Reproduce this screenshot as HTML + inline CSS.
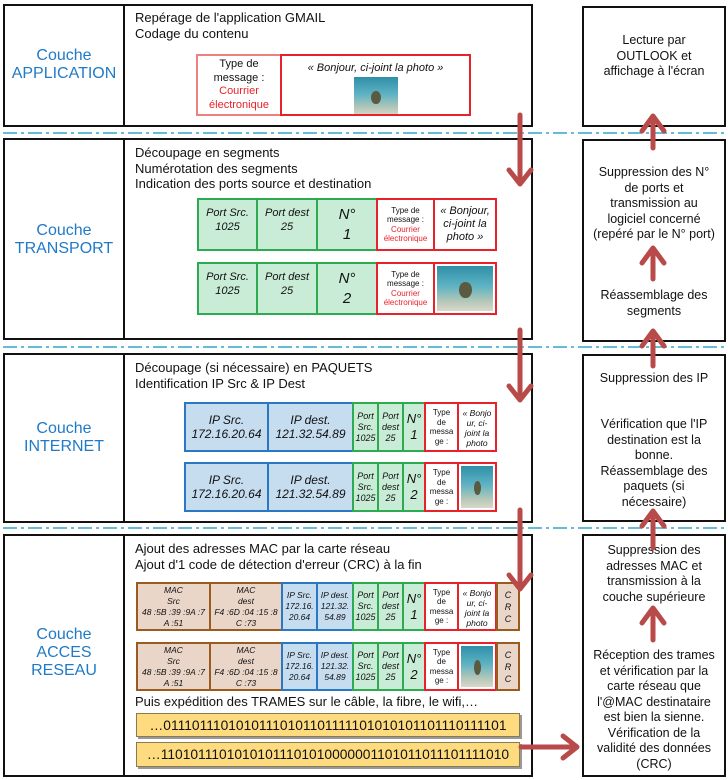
<!DOCTYPE html>
<html><head><meta charset="utf-8"><style>
*{margin:0;padding:0;box-sizing:border-box}
body{width:728px;height:780px;background:#fff;font-family:"Liberation Sans",sans-serif;position:relative;overflow:hidden;color:#111}
.a{position:absolute}
.box{position:absolute;border:2px solid #111;background:#fff}
.lbl{position:absolute;color:#1f7ac8;font-size:16px;text-align:center;line-height:18px;display:flex;align-items:center;justify-content:center}
.txt{position:absolute;font-size:13px;line-height:15.5px}
.c{position:absolute;display:flex;align-items:center;justify-content:center;text-align:center;font-style:italic;overflow:hidden}
.g{background:#c9ecd6;border:2px solid #2eaa50}
.b{background:#c6dcef;border:2px solid #2a78c4}
.br{background:#e9d6c9;border:2px solid #9b5a1e}
.r{background:#fff;border:2px solid #e8222a}
.ty{font-style:normal;font-size:8px;line-height:9.5px}
.photo{background:linear-gradient(180deg,#2f8fa8 0%,#5fb3c4 45%,#b8c8b8 80%,#d8d8cc 100%);position:relative}
.photo::after{content:"";position:absolute;left:40%;top:35%;width:22%;height:35%;background:#5a5a40;border-radius:50%}
.rt{position:absolute;font-size:12.5px;line-height:15.5px;text-align:center}
.bits{position:absolute;background:#fddb7e;border:1px solid #8a7a50;box-shadow:2px 2px 0 #999;font-size:13.8px;display:flex;align-items:center;justify-content:center;white-space:nowrap;overflow:hidden}
</style></head><body>
<svg class="a" style="left:0;top:0" width="728" height="780">
<g stroke="#4fb3cf" stroke-width="1.8" stroke-dasharray="14 4 3 4">
<line x1="3" y1="133" x2="725" y2="133"/>
<line x1="3" y1="347" x2="725" y2="347"/>
<line x1="3" y1="528" x2="725" y2="528"/>
</g></svg>

<div class="box" style="left:3px;top:4px;width:530px;height:123px"></div>
<div class="box" style="left:3px;top:138px;width:530px;height:202px"></div>
<div class="box" style="left:3px;top:353px;width:530px;height:170px"></div>
<div class="box" style="left:3px;top:534px;width:530px;height:243px"></div>
<div class="a" style="left:123px;top:4px;width:2px;height:123px;background:#111"></div>
<div class="a" style="left:123px;top:138px;width:2px;height:202px;background:#111"></div>
<div class="a" style="left:123px;top:353px;width:2px;height:170px;background:#111"></div>
<div class="a" style="left:123px;top:534px;width:2px;height:243px;background:#111"></div>

<div class="lbl" style="left:5px;top:40px;width:118px;height:50px">Couche<br>APPLICATION</div>
<div class="lbl" style="left:5px;top:215px;width:118px;height:50px">Couche<br>TRANSPORT</div>
<div class="lbl" style="left:5px;top:413px;width:118px;height:50px">Couche<br>INTERNET</div>
<div class="lbl" style="left:5px;top:618px;width:118px;height:70px;line-height:18px">Couche<br>ACCES<br>RESEAU</div>

<div class="txt" style="left:135px;top:10px">Repérage de l'application GMAIL<br>Codage du contenu</div>
<div class="c r" style="left:196px;top:54px;width:86px;height:62px;font-style:normal;font-size:11px;line-height:13.5px;border-color:#f08080"><div>Type de<br>message :<br><span style="color:#e8222a">Courrier<br>électronique</span></div></div>
<div class="c r" style="left:280px;top:54px;width:191px;height:62px;display:block"><div style="font-size:11px;margin-top:6px">« Bonjour, ci-joint la photo »</div><div class="photo" style="width:44px;height:39px;margin:3px auto 0"></div></div>

<div class="txt" style="left:135px;top:145px">Découpage en segments<br>Numérotation des segments<br>Indication des ports source et destination</div>
<div class="c g" style="left:197px;top:198px;width:61px;height:53px;font-size:11px;line-height:14px"><div style="margin-top:-10px">Port Src.<br>1025</div></div>
<div class="c g" style="left:256px;top:198px;width:62px;height:53px;font-size:11px;line-height:14px"><div style="margin-top:-10px">Port dest<br>25</div></div>
<div class="c g" style="left:316px;top:198px;width:62px;height:53px;font-size:15px;line-height:20px">N°<br>1</div>
<div class="c r ty" style="left:376px;top:198px;width:59px;height:53px"><div>Type de<br>message :<br><span style="color:#e8222a">Courrier<br>électronique</span></div></div>
<div class="c r" style="left:433px;top:198px;width:64px;height:53px;font-size:11px;line-height:13px">« Bonjour,<br>ci-joint la<br>photo »</div>

<div class="c g" style="left:197px;top:262px;width:61px;height:53px;font-size:11px;line-height:14px"><div style="margin-top:-10px">Port Src.<br>1025</div></div>
<div class="c g" style="left:256px;top:262px;width:62px;height:53px;font-size:11px;line-height:14px"><div style="margin-top:-10px">Port dest<br>25</div></div>
<div class="c g" style="left:316px;top:262px;width:62px;height:53px;font-size:15px;line-height:20px">N°<br>2</div>
<div class="c r ty" style="left:376px;top:262px;width:59px;height:53px"><div>Type de<br>message :<br><span style="color:#e8222a">Courrier<br>électronique</span></div></div>
<div class="c r" style="left:433px;top:262px;width:64px;height:53px;padding:2px"><div class="photo" style="width:100%;height:100%"></div></div>

<div class="txt" style="left:135px;top:360px">Découpage (si nécessaire) en PAQUETS<br>Identification IP Src &amp; IP Dest</div>
<div class="c b" style="left:184px;top:402px;width:85px;height:50px;font-size:12px;line-height:14px">IP Src.<br>172.16.20.64</div>
<div class="c b" style="left:267px;top:402px;width:87px;height:50px;font-size:12px;line-height:14px">IP dest.<br>121.32.54.89</div>
<div class="c g" style="left:352px;top:402px;width:27px;height:50px;font-size:9px;line-height:11px">Port<br>Src.<br>1025</div>
<div class="c g" style="left:377px;top:402px;width:27px;height:50px;font-size:9px;line-height:11px">Port<br>dest<br>25</div>
<div class="c g" style="left:402px;top:402px;width:24px;height:50px;font-size:13px;line-height:16px">N°<br>1</div>
<div class="c r ty" style="left:424px;top:402px;width:35px;height:50px">Type<br>de<br>messa<br>ge :</div>
<div class="c r" style="left:457px;top:402px;width:40px;height:50px;font-size:8.5px;line-height:10px;align-items:flex-start;padding-top:4px">« Bonjo<br>ur, ci-<br>joint la<br>photo</div>

<div class="c b" style="left:184px;top:462px;width:85px;height:50px;font-size:12px;line-height:14px">IP Src.<br>172.16.20.64</div>
<div class="c b" style="left:267px;top:462px;width:87px;height:50px;font-size:12px;line-height:14px">IP dest.<br>121.32.54.89</div>
<div class="c g" style="left:352px;top:462px;width:27px;height:50px;font-size:9px;line-height:11px">Port<br>Src.<br>1025</div>
<div class="c g" style="left:377px;top:462px;width:27px;height:50px;font-size:9px;line-height:11px">Port<br>dest<br>25</div>
<div class="c g" style="left:402px;top:462px;width:24px;height:50px;font-size:13px;line-height:16px">N°<br>2</div>
<div class="c r ty" style="left:424px;top:462px;width:35px;height:50px">Type<br>de<br>messa<br>ge :</div>
<div class="c r" style="left:457px;top:462px;width:40px;height:50px;padding:2px"><div class="photo" style="width:100%;height:100%"></div></div>

<div class="txt" style="left:135px;top:541px">Ajout des adresses MAC par la carte réseau<br>Ajout d'1 code de détection d'erreur (CRC) à la fin</div>
<div class="c br" style="left:136px;top:582px;width:75px;height:49px;font-size:8.5px;line-height:11px">MAC<br>Src<br>48 :5B :39 :9A :7<br>A :51</div>
<div class="c br" style="left:209px;top:582px;width:74px;height:49px;font-size:8.5px;line-height:11px">MAC<br>dest<br>F4 :6D :04 :15 :8<br>C :73</div>
<div class="c b" style="left:281px;top:582px;width:37px;height:49px;font-size:8.5px;line-height:11px">IP Src.<br>172.16.<br>20.64</div>
<div class="c b" style="left:316px;top:582px;width:38px;height:49px;font-size:8.5px;line-height:11px">IP dest.<br>121.32.<br>54.89</div>
<div class="c g" style="left:352px;top:582px;width:27px;height:49px;font-size:9px;line-height:11px">Port<br>Src.<br>1025</div>
<div class="c g" style="left:377px;top:582px;width:27px;height:49px;font-size:9px;line-height:11px">Port<br>dest<br>25</div>
<div class="c g" style="left:402px;top:582px;width:24px;height:49px;font-size:13px;line-height:16px">N°<br>1</div>
<div class="c r ty" style="left:424px;top:582px;width:35px;height:49px">Type<br>de<br>messa<br>ge :</div>
<div class="c r" style="left:457px;top:582px;width:40px;height:49px;font-size:8.5px;line-height:10px;align-items:flex-start;padding-top:4px">« Bonjo<br>ur, ci-<br>joint la<br>photo</div>
<div class="c br" style="left:496px;top:582px;width:24px;height:49px;font-size:9px;line-height:12px">C<br>R<br>C</div>

<div class="c br" style="left:136px;top:642px;width:75px;height:49px;font-size:8.5px;line-height:11px">MAC<br>Src<br>48 :5B :39 :9A :7<br>A :51</div>
<div class="c br" style="left:209px;top:642px;width:74px;height:49px;font-size:8.5px;line-height:11px">MAC<br>dest<br>F4 :6D :04 :15 :8<br>C :73</div>
<div class="c b" style="left:281px;top:642px;width:37px;height:49px;font-size:8.5px;line-height:11px">IP Src.<br>172.16.<br>20.64</div>
<div class="c b" style="left:316px;top:642px;width:38px;height:49px;font-size:8.5px;line-height:11px">IP dest.<br>121.32.<br>54.89</div>
<div class="c g" style="left:352px;top:642px;width:27px;height:49px;font-size:9px;line-height:11px">Port<br>Src.<br>1025</div>
<div class="c g" style="left:377px;top:642px;width:27px;height:49px;font-size:9px;line-height:11px">Port<br>dest<br>25</div>
<div class="c g" style="left:402px;top:642px;width:24px;height:49px;font-size:13px;line-height:16px">N°<br>2</div>
<div class="c r ty" style="left:424px;top:642px;width:35px;height:49px">Type<br>de<br>messa<br>ge :</div>
<div class="c r" style="left:457px;top:642px;width:40px;height:49px;padding:2px"><div class="photo" style="width:100%;height:100%"></div></div>
<div class="c br" style="left:496px;top:642px;width:24px;height:49px;font-size:9px;line-height:12px">C<br>R<br>C</div>

<div class="txt" style="left:135px;top:694px">Puis expédition des TRAMES sur le câble, la fibre, le wifi,…</div>
<div class="bits" style="left:136px;top:713px;width:384px;height:24px">…011101110101011101011011111010101011011101111​01</div>
<div class="bits" style="left:136px;top:742px;width:384px;height:25px">…110101110101010111010100000011010110111011110​10</div>

<div class="box" style="left:582px;top:6px;width:144px;height:121px"></div>
<div class="box" style="left:582px;top:139px;width:144px;height:203px"></div>
<div class="box" style="left:582px;top:354px;width:144px;height:168px"></div>
<div class="box" style="left:582px;top:534px;width:144px;height:243px"></div>
<div class="rt" style="left:584px;top:33px;width:140px">Lecture par<br>OUTLOOK et<br>affichage à l'écran</div>
<div class="rt" style="left:584px;top:165px;width:140px">Suppression des N°<br>de ports et<br>transmission au<br>logiciel concerné<br>(repéré par le N° port)</div>
<div class="rt" style="left:584px;top:288px;width:140px">Réassemblage des<br>segments</div>
<div class="rt" style="left:584px;top:371px;width:140px">Suppression des IP</div>
<div class="rt" style="left:584px;top:417px;width:140px">Vérification que l'IP<br>destination est la<br>bonne.<br>Réassemblage des<br>paquets (si<br>nécessaire)</div>
<div class="rt" style="left:584px;top:543px;width:140px">Suppression des<br>adresses MAC et<br>transmission à la<br>couche supérieure</div>
<div class="rt" style="left:584px;top:648px;width:140px">Réception des trames<br>et vérification par la<br>carte réseau que<br>l'@MAC destinataire<br>est bien la sienne.<br>Vérification de la<br>validité des données<br>(CRC)</div>

<svg class="a" style="left:0;top:0" width="728" height="780">
<g stroke="#b84a4a" stroke-width="5" fill="none" stroke-linecap="round" stroke-linejoin="round">
<path d="M520 115V183M509 170L520 184L531 170"/>
<path d="M520 330V399M509 386L520 400L531 386"/>
<path d="M520 510V588M509 575L520 589L531 575"/>
<path d="M521 747H576M563 736L577 747L563 758"/>
<path d="M653 148V118M642 131L653 116L664 131"/>
<path d="M653 279V250M642 263L653 248L664 263"/>
<path d="M653 366V333M642 346L653 331L664 346"/>
<path d="M653 548V513M642 526L653 511L664 526"/>
<path d="M653 640V610M642 623L653 608L664 623"/>
</g></svg>
</body></html>
